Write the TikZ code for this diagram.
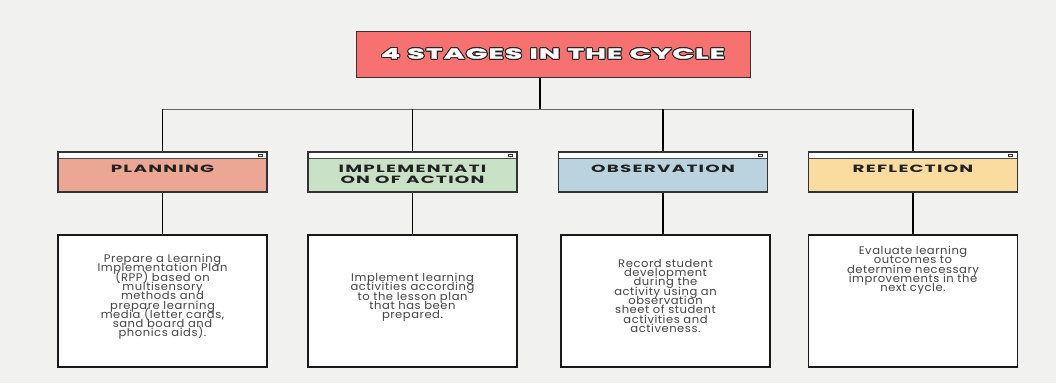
\documentclass[tikz,border=0pt]{standalone}
\usepackage{fontspec}
\usepackage{contour}
\usetikzlibrary{calc}
\setmainfont{Poppins}
\newfontfamily\titlefont[FakeStretch=1.95,LetterSpace=8,FakeBold=2]{Poppins}
\newfontfamily\hdrfont[FakeStretch=1.75,LetterSpace=12]{Poppins}
\newfontfamily\descfont[FakeStretch=1.05,LetterSpace=5]{Poppins}
\newcommand\mytightls{\lineskiplimit=-20pt\relax\lineskip=0pt\relax}
\definecolor{bgc}{HTML}{F1F1F0}
\definecolor{titlec}{HTML}{F87171}
\definecolor{planc}{HTML}{EBA794}
\definecolor{implc}{HTML}{C9E1C6}
\definecolor{obsc}{HTML}{BAD3DE}
\definecolor{reflc}{HTML}{FADCA0}
\definecolor{txtc}{HTML}{444444}
\definecolor{hdrtxt}{HTML}{222222}
\contourlength{1pt}
\tikzset{
  stagebox/.style={draw=black!80, line width=1.1pt, minimum width=209pt, minimum height=40pt, inner sep=0pt,
    path picture={
      \fill[white] (path picture bounding box.north west) rectangle ([yshift=-6pt]path picture bounding box.north east);
      \draw[black!70, line width=0.6pt] ([yshift=-6pt]path picture bounding box.north west) -- ([yshift=-6pt]path picture bounding box.north east);
      \filldraw[fill=white, draw=black!80, line width=1pt] ([xshift=-9pt,yshift=-2pt]path picture bounding box.north east) rectangle ([xshift=-5pt,yshift=-4.5pt]path picture bounding box.north east);
    }},
  descbox/.style={draw=black!90, fill=white, line width=1.4pt, minimum width=209pt, minimum height=132pt, inner sep=0pt},
  hdrlbl/.style={anchor=north, inner sep=0pt, align=center, font=\hdrfont\bfseries\fontsize{10.5}{11}\selectfont\mytightls, text=hdrtxt},
  desclbl/.style={anchor=north, inner sep=0pt, align=center, font=\descfont\fontsize{11}{9.3}\selectfont\mytightls, text=txtc},
  conn/.style={draw=black, line width=1.6pt},
  hline/.style={draw=black!60, line width=0.8pt}
}
\begin{document}
\begin{tikzpicture}[x=1pt,y=-1pt]
\fill[bgc] (0,0) rectangle (1056,383);
\useasboundingbox (0,0) rectangle (1056,383);

\node[draw=black!80, fill=titlec, line width=1pt, minimum width=394pt, minimum height=46pt, inner sep=0pt,
  font=\titlefont\bfseries\fontsize{14.5}{15}\selectfont] (title) at (553,54)
  {\color{white}\contour{black!85}{4 STAGES IN THE CYCLE}};

\node[stagebox, fill=planc] (plan) at (162.5,172) {};
\node[stagebox, fill=implc] (impl) at (412.5,172) {};
\node[stagebox, fill=obsc]  (obs)  at (663,172) {};
\node[stagebox, fill=reflc] (refl) at (913,172) {};

\node[hdrlbl] (planlbl) at (162.5,164.7) {PLANNING};
\node[hdrlbl] (impllbl) at (412.5,164.7) {IMPLEMENTATI\\ON OF ACTION};
\node[hdrlbl] (obslbl)  at (663,164.7) {OBSERVATION};
\node[hdrlbl] (refllbl) at (913,164.7) {REFLECTION};

\node[descbox] (pland) at (162.5,301) {};
\node[descbox] (impld) at (412.5,301) {};
\node[descbox] (obsd)  at (665.5,301) {};
\node[descbox] (refld) at (913,301) {};

\node[desclbl] (plantxt) at (162.5,254) {Prepare a Learning\\Implementation Plan\\(RPP) based on\\multisensory\\methods and\\prepare learning\\media (letter cards,\\sand board and\\phonics aids).};
\node[desclbl] (impltxt) at (412.5,273) {Implement learning\\activities according\\to the lesson plan\\that has been\\prepared.};
\node[desclbl] (obstxt) at (665.5,259) {Record student\\development\\during the\\activity using an\\observation\\sheet of student\\activities and\\activeness.};
\node[desclbl] (refltxt) at (913,246) {Evaluate learning\\outcomes to\\determine necessary\\improvements in the\\next cycle.};

\coordinate (stemtop) at ($(title.south)+(-13,0)$);
\coordinate (hub) at (540,109);
\draw[conn] (stemtop) -- (stemtop |- hub);
\draw[hline] (plan.north |- hub) -- (refl.north |- hub);
\foreach \n in {plan,impl,obs,refl}{
  \draw[conn] (\n.north |- hub) -- (\n.north);
}
\draw[conn] (plan.south) -- (pland.north);
\draw[conn] (impl.south) -- (impld.north);
\draw[conn] (obs.south) -- (obs.south |- obsd.north);
\draw[conn] (refl.south) -- (refld.north);
\end{tikzpicture}
\end{document}
